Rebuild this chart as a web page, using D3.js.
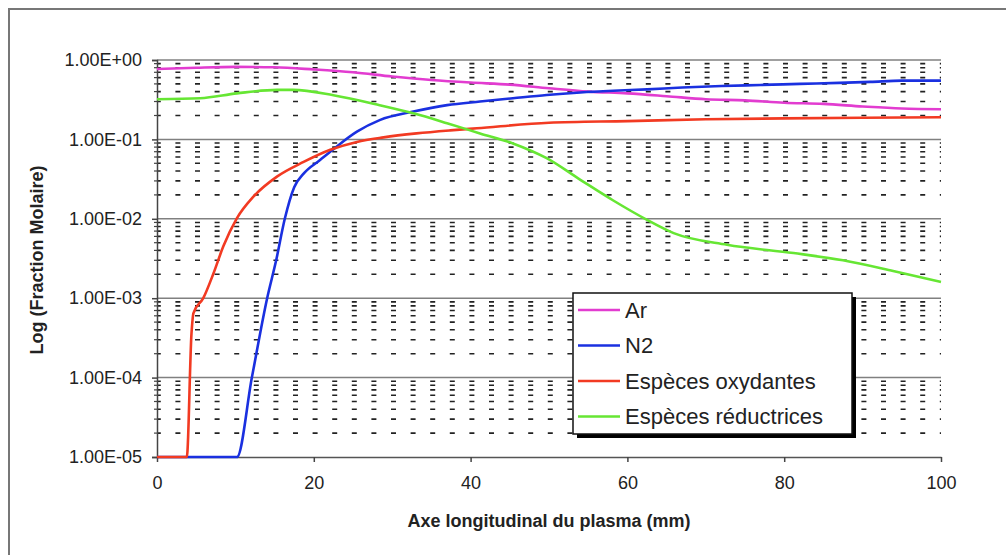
<!DOCTYPE html>
<html>
<head>
<meta charset="utf-8">
<script src="https://cdn.jsdelivr.net/npm/d3@7"></script>
<style>
  body { margin: 0; background: #fff; }
  text { font-family: "Liberation Sans", Arial, sans-serif; fill: #222; }
</style>
</head>
<body>
<div id="chart"></div>
<script>
// data (x in mm, y molar fraction)
const arX = [0, 5, 10, 15, 20, 25, 30, 35, 40, 45, 50, 55, 60, 65, 70, 75, 80, 85, 90, 95, 100];
const arY = [0.77, 0.80, 0.82, 0.81, 0.76, 0.70, 0.62, 0.56, 0.52, 0.49, 0.44, 0.40, 0.38, 0.35, 0.32, 0.31, 0.29, 0.28, 0.26, 0.245, 0.24];

const n2X = [0, 10.2, 12.1, 14.05, 15.2, 16.3, 17.5, 18.7, 20.8, 22.9, 25.5, 28.4, 32.7, 37, 41.2, 45.4, 49.7, 54, 58.2, 62.5, 67, 72, 77, 82, 87, 91, 95, 100];
const n2Y = [1e-5, 1e-5, 1e-4, 1e-3, 3e-3, 1e-2, 0.025, 0.037, 0.055, 0.081, 0.125, 0.175, 0.224, 0.27, 0.30, 0.33, 0.363, 0.39, 0.41, 0.427, 0.45, 0.47, 0.485, 0.50, 0.515, 0.53, 0.55, 0.55];

const oxX = [0, 3.8, 4.4, 4.65, 5.9, 7.2, 8.46, 10.2, 12.3, 15.3, 18.7, 22.1, 25.5, 28.9, 33.1, 37.4, 40.8, 50, 60, 70, 80, 90, 100];
const oxY = [1e-5, 1e-5, 3.6e-4, 6.5e-4, 1e-3, 2.05e-3, 4.5e-3, 0.0102, 0.019, 0.034, 0.052, 0.074, 0.093, 0.106, 0.119, 0.13, 0.138, 0.162, 0.17, 0.179, 0.184, 0.187, 0.19];

const redX = [0, 5.5, 10.2, 15.3, 17.4, 22.5, 28.4, 32.7, 37, 41.2, 45.4, 49.7, 54, 58.2, 62.5, 65.9, 72.7, 81.2, 87.5, 93.9, 100];
const redY = [0.32, 0.33, 0.38, 0.42, 0.42, 0.36, 0.27, 0.213, 0.16, 0.119, 0.089, 0.058, 0.031, 0.017, 0.0097, 0.0066, 0.0047, 0.0037, 0.003, 0.0022, 0.0016];

const seriesNames = ["Ar", "N2", "Espèces oxydantes", "Espèces réductrices"];
const seriesColors = ["#e23cd0", "#1a30e0", "#f23a22", "#66e633"];
const xTicks = [0, 20, 40, 60, 80, 100];
const yTicks = [1e0, 1e-1, 1e-2, 1e-3, 1e-4, 1e-5];
const yTickLabels = ["1.00E+00", "1.00E-01", "1.00E-02", "1.00E-03", "1.00E-04", "1.00E-05"];

const series = [
  { name: seriesNames[0], xs: arX, ys: arY },
  { name: seriesNames[1], xs: n2X, ys: n2Y },
  { name: seriesNames[2], xs: oxX, ys: oxY },
  { name: seriesNames[3], xs: redX, ys: redY }
];

const W = 1007, H = 555;
const margin = { top: 60, right: 66, bottom: 98, left: 157 };
const width = W - margin.left - margin.right;
const height = H - margin.top - margin.bottom;

const svg = d3.select("#chart").append("svg")
  .attr("width", W).attr("height", H);

// outer frame (top and left edges visible)
svg.append("path")
  .attr("d", "M9,600 L9,9 L1006,9")
  .attr("fill", "none").attr("stroke", "#777").attr("stroke-width", 2);

const g = svg.append("g").attr("transform", `translate(${margin.left},${margin.top})`);

const x = d3.scaleLinear().domain([0, 100]).range([0, width]);
const y = d3.scaleLog().domain([1e-5, 1]).range([height, 0]);

// minor dotted gridlines
const minors = [];
for (let e = -5; e < 0; e++) for (let m = 2; m <= 9; m++) minors.push(m * Math.pow(10, e));

g.append("g").selectAll("line").data(minors).join("line")
  .attr("x1", 0).attr("x2", width)
  .attr("y1", d => y(d)).attr("y2", d => y(d))
  .attr("stroke", "#222").attr("stroke-width", 1.6)
  .attr("stroke-dasharray", "5,14.6").attr("stroke-dashoffset", 1.2);

// major gridlines
g.append("g").selectAll("line").data(yTicks.slice(0, 5)).join("line")
  .attr("x1", 0).attr("x2", width)
  .attr("y1", d => y(d)).attr("y2", d => y(d))
  .attr("stroke", "#808080").attr("stroke-width", 1.5);

// y axis
const yAxis = g.append("g")
  .call(d3.axisLeft(y).tickValues(yTicks).tickFormat((d, i) => yTickLabels[i]).tickSize(5).tickPadding(10));
yAxis.select(".domain").attr("stroke", "#444").attr("stroke-width", 1.5);
yAxis.selectAll(".tick line").attr("stroke", "#444").attr("stroke-width", 1.5);
yAxis.selectAll("text").attr("font-size", 18).attr("fill", "#222");
g.append("g").selectAll("line").data(minors).join("line")
  .attr("x1", -3).attr("x2", 0)
  .attr("y1", d => y(d)).attr("y2", d => y(d))
  .attr("stroke", "#444").attr("stroke-width", 1.2);

// x axis
const xAxis = g.append("g").attr("transform", `translate(0,${height})`)
  .call(d3.axisBottom(x).tickValues(xTicks).tickSize(5).tickPadding(14).tickSizeOuter(0));
xAxis.select(".domain").attr("stroke", "#555").attr("stroke-width", 1.5);
xAxis.selectAll(".tick line").attr("stroke", "#444").attr("stroke-width", 1.5);
xAxis.selectAll("text").attr("font-size", 18).attr("fill", "#222");

// curves
const line = d3.line()
  .x(d => x(d[0])).y(d => y(d[1]))
  .curve(d3.curveMonotoneX);

g.append("g").selectAll("path").data(series).join("path")
  .attr("d", s => line(s.xs.map((v, i) => [v, s.ys[i]])))
  .attr("fill", "none")
  .attr("stroke", (s, i) => seriesColors[i])
  .attr("stroke-width", 2.6)
  .attr("stroke-linejoin", "round");

// axis titles
svg.append("text")
  .attr("x", margin.left + width / 2).attr("y", 527)
  .attr("text-anchor", "middle")
  .attr("font-size", 18).attr("font-weight", "bold")
  .text("Axe longitudinal du plasma (mm)");

svg.append("text")
  .attr("transform", "translate(43,260) rotate(-90)")
  .attr("text-anchor", "middle")
  .attr("font-size", 18).attr("font-weight", "bold")
  .text("Log (Fraction Molaire)");

// legend
const lg = svg.append("g").attr("transform", "translate(573,293)");
lg.append("rect").attr("x", 4).attr("y", 4).attr("width", 279).attr("height", 141).attr("fill", "#000");
lg.append("rect").attr("width", 279).attr("height", 141)
  .attr("fill", "#fff").attr("stroke", "#111").attr("stroke-width", 1.5);
const items = lg.selectAll("g.item").data(seriesNames).join("g")
  .attr("class", "item")
  .attr("transform", (d, i) => `translate(0,${17 + i * 35.5})`);
items.append("line")
  .attr("x1", 5).attr("x2", 47).attr("y1", 0).attr("y2", 0)
  .attr("stroke", (d, i) => seriesColors[i]).attr("stroke-width", 2.6);
items.append("text")
  .attr("x", 52).attr("y", 0).attr("dy", "0.36em")
  .attr("font-size", 22)
  .text(d => d);
</script>
</body>
</html>
